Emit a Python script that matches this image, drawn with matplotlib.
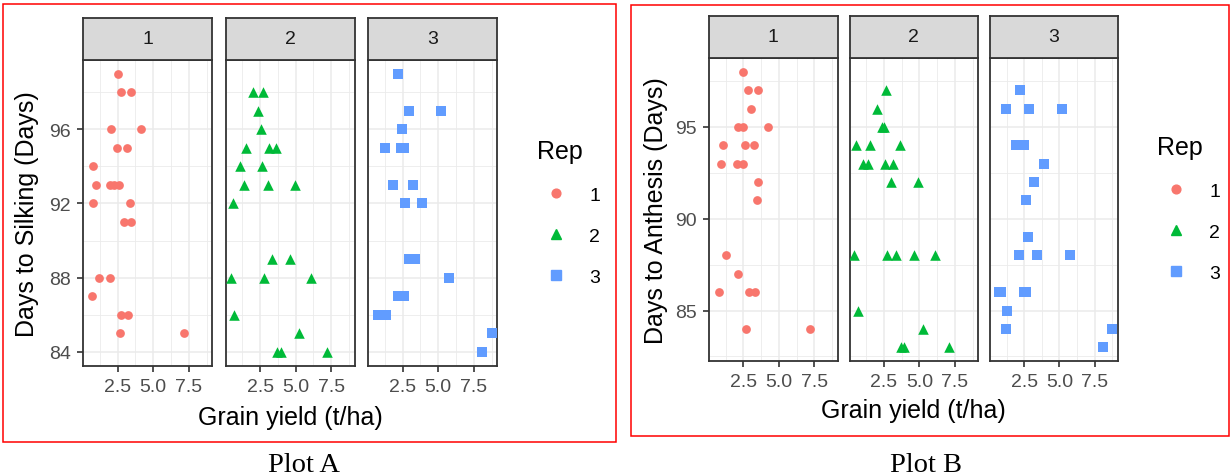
import matplotlib
matplotlib.use("Agg")
import matplotlib.pyplot as plt
from matplotlib.lines import Line2D
from matplotlib.patches import Rectangle

plt.rcParams["font.family"] = ["Liberation Sans", "DejaVu Sans"]

W, H = 1231, 477

reps = ["1", "2", "3"]
rep_colors = ["#F8766D", "#00BA38", "#619CFF"]
rep_markers = ["o", "^", "s"]
rep_msize = [6.3, 7.6, 6.9]

x_ticks = [2.5, 5.0, 7.5]
x_tick_labels = ["2.5", "5.0", "7.5"]
x_minor = [1.25, 3.75, 6.25, 8.75]

# Plot A: grain yield (t/ha) vs days to silking
silk_yield_rep1 = [2.50, 2.74, 3.47, 2.03, 4.17, 2.45, 3.14, 0.78, 0.99, 1.96, 2.26, 2.62,
                   0.80, 3.35, 2.97, 3.47, 1.20, 1.98, 0.68, 2.76, 3.25, 2.64, 7.19]
silk_days_rep1 = [99, 98, 98, 96, 96, 95, 95, 94, 93, 93, 93, 93,
                  92, 92, 91, 91, 88, 88, 87, 86, 86, 85, 85]
silk_yield_rep2 = [2.03, 2.69, 2.33, 2.57, 1.51, 3.11, 3.63, 1.11, 2.62, 1.34, 3.04, 4.93,
                   0.57, 3.33, 4.60, 0.45, 2.74, 6.08, 0.68, 5.26, 3.70, 3.99, 7.17]
silk_days_rep2 = [98, 98, 97, 96, 95, 95, 95, 94, 94, 93, 93, 93,
                  92, 89, 89, 88, 88, 88, 86, 85, 84, 84, 84]
silk_yield_rep3 = [2.20, 2.94, 5.19, 2.48, 1.26, 2.36, 2.59, 1.82, 3.22, 2.69, 3.88,
                   2.92, 3.39, 5.75, 2.15, 2.62, 0.75, 1.33, 8.76, 8.11]
silk_days_rep3 = [99, 97, 97, 96, 95, 95, 95, 93, 93, 92, 92,
                  89, 89, 88, 87, 87, 86, 86, 85, 84]

# Plot B: grain yield (t/ha) vs days to anthesis
anth_yield_rep1 = [2.50, 2.81, 3.54, 3.02, 2.08, 2.50, 4.22, 1.04, 2.59, 3.21, 0.90, 2.03,
                   2.45, 3.49, 3.42, 1.27, 2.08, 0.80, 2.88, 3.28, 2.71, 7.17]
anth_days_rep1 = [98, 97, 97, 96, 95, 95, 95, 94, 94, 94, 93, 93,
                  93, 92, 91, 88, 87, 86, 86, 86, 84, 84]
anth_yield_rep2 = [2.67, 2.02, 2.36, 2.50, 0.55, 1.51, 3.63, 1.03, 1.35, 2.55, 3.15, 2.98,
                   4.93, 0.38, 2.74, 3.34, 4.59, 6.13, 0.67, 5.24, 3.68, 3.94, 7.12]
anth_days_rep2 = [97, 96, 95, 95, 94, 94, 94, 93, 93, 93, 93, 92,
                  92, 88, 88, 88, 88, 88, 85, 84, 83, 83, 83]
anth_yield_rep3 = [2.21, 1.23, 2.86, 5.19, 1.95, 2.50, 3.89, 3.17, 2.62, 2.79, 2.12, 3.41,
                   5.77, 0.70, 0.82, 2.50, 2.62, 1.30, 1.23, 8.77, 8.12]
anth_days_rep3 = [97, 96, 96, 96, 94, 94, 93, 92, 91, 89, 88, 88,
                  88, 86, 86, 86, 86, 85, 84, 84, 83]


def box(fig, left, top, right, bottom, **kw):
    return fig.add_axes([left / W, 1 - bottom / H, (right - left) / W, (bottom - top) / H], **kw)


def draw_facets(fig, panel_x, strip_top, panel_top, panel_bottom, xs, ys,
                ylim, y_ticks, y_minor, ylabel, ylabel_x, xlabel_y):
    for i, (left, right) in enumerate(panel_x):
        ax = box(fig, left, panel_top, right, panel_bottom)
        ax.scatter(xs[i], ys[i], s=rep_msize[i] ** 2, marker=rep_markers[i],
                   color=rep_colors[i], linewidths=0, zorder=3)
        ax.set_xlim(0.07, 9.13)
        ax.set_ylim(*ylim)
        ax.set_xticks(x_ticks)
        ax.set_xticklabels(x_tick_labels)
        ax.set_xticks(x_minor, minor=True)
        ax.set_yticks(y_ticks)
        ax.set_yticks(y_minor, minor=True)
        ax.grid(which="major", color="#EBEBEB", lw=1.1)
        ax.grid(which="minor", color="#EBEBEB", lw=0.6)
        ax.set_axisbelow(True)
        for sp in ax.spines.values():
            sp.set_color("#333333")
            sp.set_linewidth(1.3)
        ax.tick_params(which="minor", length=0)
        ax.tick_params(which="major", length=4.3, width=1.2, color="#333333",
                       labelsize=14, labelcolor="#4D4D4D", pad=4.5)
        if i > 0:
            ax.tick_params(axis="y", which="major", length=0, labelleft=False)

        st = box(fig, left, strip_top, right, panel_top)
        st.set_facecolor("#D9D9D9")
        st.set_xticks([])
        st.set_yticks([])
        for sp in st.spines.values():
            sp.set_color("#333333")
            sp.set_linewidth(1.3)
        st.text(0.5, 0.5, reps[i], ha="center", va="center", fontsize=14,
                color="#1A1A1A", transform=st.transAxes)

    mid_y = (panel_top + panel_bottom) / 2
    fig.text(ylabel_x / W, 1 - mid_y / H, ylabel, rotation=90, ha="center",
             va="center", fontsize=18)
    mid_x = (panel_x[0][0] + panel_x[-1][1]) / 2
    fig.text(mid_x / W, 1 - xlabel_y / H, "Grain yield (t/ha)", ha="center",
             va="baseline", fontsize=18)


def add_legend(fig, left, top):
    handles = [Line2D([], [], ls="none", marker=m, color=c, markersize=s)
               for m, c, s in zip(rep_markers, rep_colors, rep_msize)]
    fig.legend(handles, reps, title="Rep", loc="upper left",
               bbox_to_anchor=(left / W, 1 - top / H), frameon=False,
               fontsize=14, title_fontsize=18, handlelength=2.0,
               handletextpad=0.7, labelspacing=1.2, borderpad=0,
               borderaxespad=0, alignment="left")


fig = plt.figure(figsize=(W / 100, H / 100), dpi=100)

# Plot A
draw_facets(fig, [(83, 212), (225.5, 354.5), (368, 497)], 19, 61, 366.5,
            [silk_yield_rep1, silk_yield_rep2, silk_yield_rep3],
            [silk_days_rep1, silk_days_rep2, silk_days_rep3],
            (83.25, 99.75), [84, 88, 92, 96], [86, 90, 94, 98],
            "Days to Silking (Days)", 27.5, 425)
add_legend(fig, 537, 140)

# Plot B
draw_facets(fig, [(709, 837.5), (849.5, 978), (990, 1117.5)], 16.7, 59, 362,
            [anth_yield_rep1, anth_yield_rep2, anth_yield_rep3],
            [anth_days_rep1, anth_days_rep2, anth_days_rep3],
            (82.25, 98.75), [85, 90, 95], [82.5, 87.5, 92.5, 97.5],
            "Days to Anthesis (Days)", 655.5, 418)
add_legend(fig, 1157, 136)

# red frames and captions
for (l, t, r, b) in [(3, 5, 616, 443), (630.5, 6, 1229, 437)]:
    fig.patches.append(Rectangle((l / W, 1 - b / H), (r - l) / W, (b - t) / H,
                                 transform=fig.transFigure, fill=False,
                                 edgecolor="#FF0000", lw=1.1))
fig.text(304 / W, 1 - 471.7 / H, "Plot A", ha="center", va="baseline",
         fontsize=20.5, family="Liberation Serif")
fig.text(925.5 / W, 1 - 471.7 / H, "Plot B", ha="center", va="baseline",
         fontsize=20.5, family="Liberation Serif")

fig.savefig("out.png", dpi=100)
